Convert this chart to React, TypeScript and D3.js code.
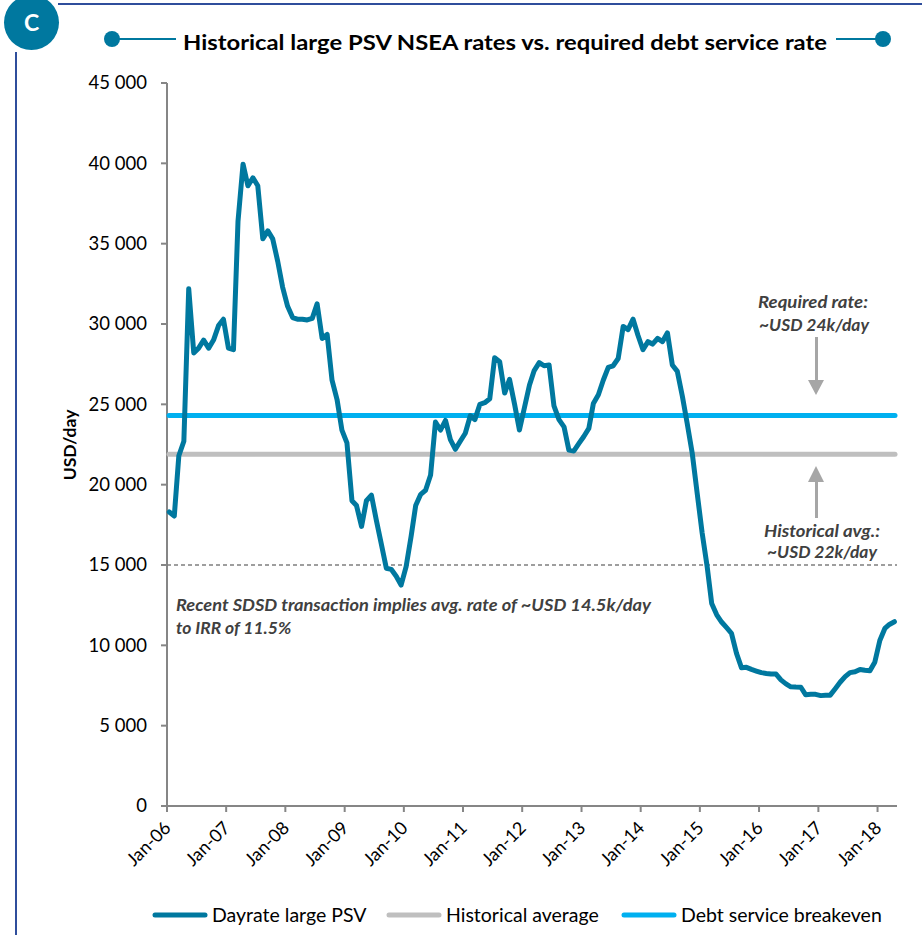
import React from "react";
import * as d3 from "d3";

// ---- Data ----
const FIRST_MONTH = "2006-01";
const DAYRATE_LARGE_PSV = [
  18300, 18050, 21800, 22700, 32200, 28200, 28500, 29000, 28500, 29000, 29900, 30300,
  28500, 28400, 36400, 39950, 38600, 39100, 38600, 35300, 35800, 35300, 33900, 32300,
  31100, 30400, 30300, 30300, 30250, 30350, 31250, 29100, 29350, 26500, 25300, 23400,
  22600, 19000, 18700, 17400, 19000, 19350, 17800, 16300, 14800, 14730, 14300, 13750,
  14900, 16800, 18700, 19400, 19650, 20600, 23900, 23400, 24000, 22800, 22200, 22700,
  23200, 24300, 24050, 25000, 25100, 25350, 27900, 27650, 25700, 26550, 25000, 23400,
  24800, 26200, 27100, 27600, 27400, 27450, 24900, 24050, 23600, 22150, 22100, 22550,
  23000, 23500, 25050, 25600, 26500, 27300, 27400, 27850, 29850, 29650, 30300, 29300,
  28400, 28900, 28750, 29100, 28900, 29450, 27450, 27050, 25500, 23800, 21950, 19500,
  17000, 14900, 12600, 11900, 11450, 11100, 10750, 9500, 8600, 8630, 8500, 8400,
  8300, 8250, 8210, 8210, 7850, 7600, 7420, 7400, 7390, 6920, 6950, 6950,
  6870, 6900, 6900, 7300, 7700, 8050, 8300, 8350, 8500, 8450, 8420, 8950,
  10300, 11050, 11300, 11470,
];
const HISTORICAL_AVERAGE = 21900;
const DEBT_SERVICE_BREAKEVEN = 24300;
const SDSD_IMPLIED_RATE = 15000;
const X_DOMAIN = ["2006-01-01", "2018-05-01"];
const Y_TICKS = [0, 5000, 10000, 15000, 20000, 25000, 30000, 35000, 40000, 45000];
const LEGEND_LABELS = ["Dayrate large PSV", "Historical average", "Debt service breakeven"];
const TITLE = "Historical large PSV NSEA rates vs. required debt service rate";

const C_MAIN = "#00789F";
const C_AVG = "#BFBFBF";
const C_BREAK = "#00B0F0";
const C_AXIS = "#868686";
const C_NOTE = "#404040";
const C_ARROW = "#A6A6A6";
const C_BORDER = "#2F4E9C";
const FONT = "Lato, 'Open Sans', sans-serif";

export default function App() {
  const W = 922, H = 935;
  const left = 167, right = 897, top = 83, bottom = 806;
  const parseM = d3.timeParse("%Y-%m");
  const parseD = d3.timeParse("%Y-%m-%d");
  const start = parseM(FIRST_MONTH) as Date;
  const dates = DAYRATE_LARGE_PSV.map((_, i) => d3.timeDay.offset(d3.timeMonth.offset(start, i), 14));
  const x = d3.scaleTime().domain(X_DOMAIN.map((s) => parseD(s) as Date)).range([left, right]);
  const y = d3.scaleLinear().domain([0, 45000]).range([bottom, top]);
  const xTicks = d3.timeYear.range(parseD("2006-01-01") as Date, parseD("2018-02-01") as Date);
  const fmtX = d3.timeFormat("%b-%y");
  const fmtY = (v: number) => d3.format(",")(v).replace(/,/g, " ");
  const line = d3
    .line<number>()
    .x((_, i) => x(dates[i]))
    .y((d) => y(d));
  const x0 = x.range()[0], x1 = x.range()[1];

  const legendItems = [
    { label: LEGEND_LABELS[0], color: C_MAIN, lx: 153 },
    { label: LEGEND_LABELS[1], color: C_AVG, lx: 387 },
    { label: LEGEND_LABELS[2], color: C_BREAK, lx: 622 },
  ];

  return (
    <svg
      width={W}
      height={H}
      style={{ position: "absolute", left: 0, top: 0, background: "#fff" }}
      fontFamily={FONT}
    >
      <rect x={0} y={0} width={W} height={H} fill="#fff" />
      {/* frame */}
      <line x1={58} x2={W} y1={4} y2={4} stroke={C_BORDER} strokeWidth={2} />
      <line x1={16} x2={16} y1={52} y2={H} stroke={C_BORDER} strokeWidth={2} />
      <circle cx={31.5} cy={22.5} r={27.5} fill={C_MAIN} />
      <text x={31.5} y={31} textAnchor="middle" fill="#fff" fontWeight="bold" fontSize={23}>
        C
      </text>

      {/* title */}
      <line x1={112} x2={176} y1={39} y2={39} stroke={C_MAIN} strokeWidth={2} />
      <circle cx={112} cy={39} r={8} fill={C_MAIN} />
      <line x1={836} x2={883} y1={39} y2={39} stroke={C_MAIN} strokeWidth={2} />
      <circle cx={883} cy={39} r={8} fill={C_MAIN} />
      <text
        x={183}
        y={50}
        fontWeight="bold"
        fontSize={21}
        fill="#000"
        textLength={644}
        lengthAdjust="spacingAndGlyphs"
      >
        {TITLE}
      </text>

      {/* y axis */}
      <line x1={left} x2={left} y1={y(45000)} y2={y(0)} stroke={C_AXIS} strokeWidth={2} />
      {Y_TICKS.map((t) => (
        <g key={t}>
          <line x1={left - 6} x2={left} y1={y(t)} y2={y(t)} stroke={C_AXIS} strokeWidth={2} />
          <text x={147} y={y(t)} dy="0.35em" textAnchor="end" fontSize={18.5} fill="#000">
            {fmtY(t)}
          </text>
        </g>
      ))}
      <text
        transform={`translate(76, 445) rotate(-90)`}
        textAnchor="middle"
        fontWeight="bold"
        fontSize={17.5}
        fill="#000"
      >
        USD/day
      </text>

      {/* x axis */}
      <line x1={x0} x2={x1} y1={bottom} y2={bottom} stroke={C_AXIS} strokeWidth={2} />
      {xTicks.map((t) => (
        <g key={t.getTime()}>
          <line x1={x(t)} x2={x(t)} y1={bottom} y2={bottom + 6} stroke={C_AXIS} strokeWidth={2} />
          <text
            transform={`translate(${x(t) + 5}, 829) rotate(-45)`}
            textAnchor="end"
            fontSize={18}
            fill="#000"
          >
            {fmtX(t)}
          </text>
        </g>
      ))}

      {/* reference lines */}
      <line
        x1={x0}
        x2={x1}
        y1={y(SDSD_IMPLIED_RATE)}
        y2={y(SDSD_IMPLIED_RATE)}
        stroke="#7F7F7F"
        strokeWidth={1.3}
        strokeDasharray="4 3"
      />
      <line
        x1={x0 + 2}
        x2={x1 - 2}
        y1={y(HISTORICAL_AVERAGE)}
        y2={y(HISTORICAL_AVERAGE)}
        stroke={C_AVG}
        strokeWidth={5}
        strokeLinecap="round"
      />
      <line
        x1={x0 + 2}
        x2={x1 - 2}
        y1={y(DEBT_SERVICE_BREAKEVEN)}
        y2={y(DEBT_SERVICE_BREAKEVEN)}
        stroke={C_BREAK}
        strokeWidth={5}
        strokeLinecap="round"
      />

      {/* main series */}
      <path
        d={line(DAYRATE_LARGE_PSV) || ""}
        fill="none"
        stroke={C_MAIN}
        strokeWidth={5}
        strokeLinejoin="round"
        strokeLinecap="round"
      />

      {/* annotations */}
      <g fontWeight="bold" fontStyle="italic" fontSize={17.5} fill={C_NOTE}>
        <text x={813} y={308} textAnchor="middle" textLength={110} lengthAdjust="spacingAndGlyphs">Required rate:</text>
        <text x={814} y={331} textAnchor="middle" textLength={110} lengthAdjust="spacingAndGlyphs">~USD 24k/day</text>
        <text x={822} y={537} textAnchor="middle" textLength={116} lengthAdjust="spacingAndGlyphs">Historical avg.:</text>
        <text x={822} y={558} textAnchor="middle" textLength={110} lengthAdjust="spacingAndGlyphs">~USD 22k/day</text>
        <text x={176} y={611} textLength={475} lengthAdjust="spacingAndGlyphs">
          Recent SDSD transaction implies avg. rate of ~USD 14.5k/day
        </text>
        <text x={176} y={634}>to IRR of 11.5%</text>
      </g>
      <g fill={C_ARROW} stroke="none">
        <rect x={815} y={337} width={3} height={44} />
        <polygon points="808,380 824,380 816,395" />
        <rect x={815} y={481} width={3} height={37} />
        <polygon points="808,482 824,482 816,466" />
      </g>

      {/* legend */}
      {legendItems.map((it) => (
        <g key={it.label}>
          <line
            x1={it.lx + 2}
            x2={it.lx + 52}
            y1={915}
            y2={915}
            stroke={it.color}
            strokeWidth={5}
            strokeLinecap="round"
          />
          <text x={it.lx + 59} y={915} dy="0.35em" fontSize={19.5} fill="#000">
            {it.label}
          </text>
        </g>
      ))}
    </svg>
  );
}
